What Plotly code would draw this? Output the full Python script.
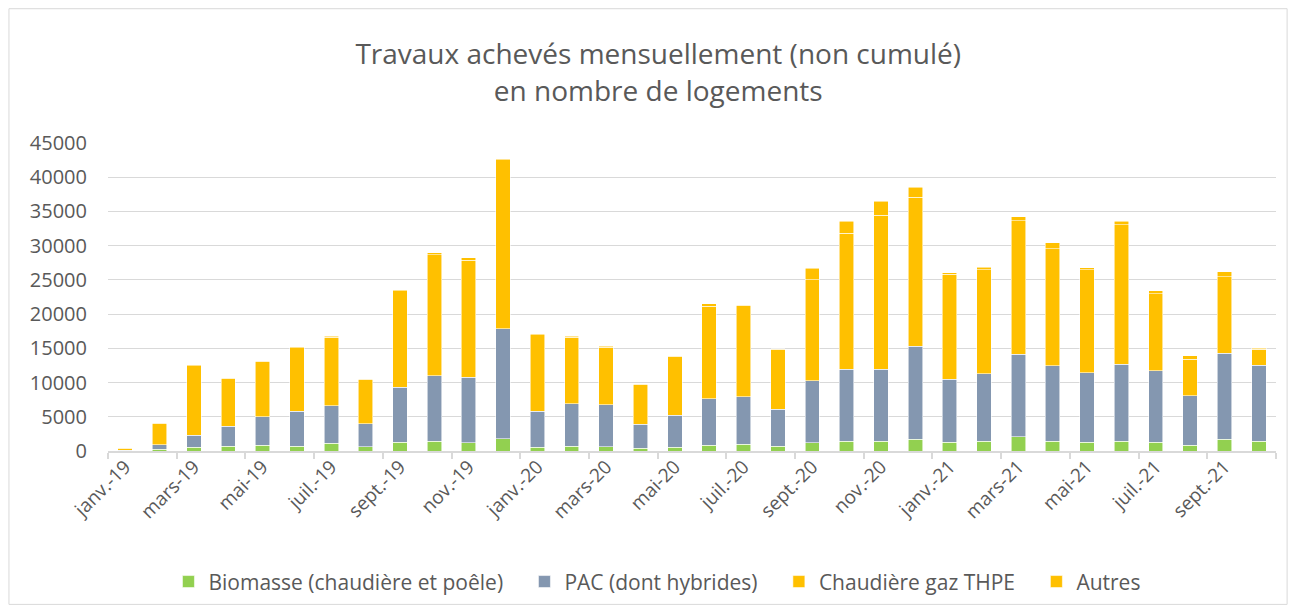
import plotly.graph_objects as go

months = ["janv.-19","févr.-19","mars-19","avr.-19","mai-19","juin-19","juil.-19","août-19","sept.-19","oct.-19","nov.-19","déc.-19",
          "janv.-20","févr.-20","mars-20","avr.-20","mai-20","juin-20","juil.-20","août-20","sept.-20","oct.-20","nov.-20","déc.-20",
          "janv.-21","févr.-21","mars-21","avr.-21","mai-21","juin-21","juil.-21","août-21","sept.-21","oct.-21"]

biomasse = [40, 250, 540, 690, 830, 730, 1120, 590, 1270, 1420, 1230, 1810,
            540, 690, 590, 390, 540, 830, 980, 690, 1230, 1420, 1420, 1710,
            1310, 1460, 2050, 1460, 1310, 1420, 1270, 830, 1710, 1460]
pac = [100, 630, 1750, 2960, 4140, 5110, 5510, 3410, 8040, 9600, 9540, 16070,
       5260, 6240, 6190, 3510, 4720, 6820, 6970, 5400, 9060, 10520, 10560, 13630,
       9210, 9850, 12120, 10960, 10090, 11290, 10480, 7210, 12560, 11060]
gaz = [200, 3150, 10150, 6950, 8050, 9230, 10000, 6460, 14130, 17680, 17090, 24690,
       11200, 9700, 8390, 5850, 8550, 13490, 13250, 8750, 14750, 19870, 22500, 21770,
       15340, 15190, 19490, 17150, 15050, 20370, 11250, 5400, 11210, 2340]
autres = [60, 120, 130, 120, 130, 130, 130, 120, 140, 230, 400, 150,
          150, 130, 130, 100, 130, 400, 130, 120, 1650, 1750, 2000, 1420,
          150, 340, 530, 880, 350, 480, 380, 500, 730, 150]

series_names = ["Biomasse (chaudière et poêle)", "PAC (dont hybrides)", "Chaudière gaz THPE", "Autres"]
series_values = [biomasse, pac, gaz, autres]
series_colors = ["#92d050", "#8497b0", "#ffc000", "#ffc000"]

xs = list(range(len(months)))
fig = go.Figure()
for i, (name, vals, col) in enumerate(zip(series_names, series_values, series_colors)):
    pad = "\u00a0\u00a0\u00a0" if i < len(series_names) - 1 else ""
    fig.add_trace(go.Bar(x=xs, y=vals, name=name + pad, width=0.42,
                         marker=dict(color=col, line=dict(color="rgba(255,255,255,0.7)", width=0.8))))

# invisible trace for the boundary-tick axis
fig.add_trace(go.Scatter(x=[-0.5, len(months) - 0.5], y=[0, 0], xaxis="x2", mode="markers",
                         marker=dict(opacity=0), showlegend=False, hoverinfo="skip"))

grey = "#595959"
FONT = "Open Sans"
fig.update_layout(
    width=1280, height=597,
    barmode="stack",
    paper_bgcolor="white", plot_bgcolor="white",
    margin=dict(l=100, r=12, t=135, b=154, autoexpand=False),
    font=dict(family=FONT, color=grey, size=16),
    title=dict(text="Travaux achevés mensuellement (non cumulé)<br>en nombre de logements",
               x=0.508, xanchor="center", y=0.906, yanchor="middle",
               font=dict(size=28, color=grey, family=FONT)),
    xaxis=dict(range=[-0.5, len(months) - 0.5], tickvals=xs[::2], ticktext=months[::2],
               tickangle=-45, ticks="", showgrid=False, zeroline=False, showline=False,
               tickfont=dict(size=19, color=grey), automargin=False),
    xaxis2=dict(overlaying="x", range=[-0.5, len(months) - 0.5],
                tickvals=[i - 0.5 for i in range(0, len(months) + 1, 2)],
                ticks="outside", ticklen=6, tickcolor="#d9d9d9", tickwidth=1.5,
                showticklabels=False, showline=True, linecolor="#d9d9d9", linewidth=1.5,
                showgrid=False, zeroline=False, side="bottom", anchor="y", automargin=False),
    yaxis=dict(range=[0, 45000], dtick=5000, showgrid=True, gridcolor="#d9d9d9", gridwidth=1.2,
               zeroline=False, showline=False, tickfont=dict(size=20, color=grey),
               tickformat="d", ticklabelstandoff=20, automargin=False),
    legend=dict(orientation="h", x=0.47, xanchor="center", y=-0.425, yanchor="middle",
                font=dict(size=21, color=grey), traceorder="normal", itemwidth=30),
    bargap=0.5,
    shapes=[dict(type="rect", xref="paper", yref="paper", x0=-0.0848, x1=1.0095, y0=-0.498, y1=1.436,
                 line=dict(color="#d9d9d9", width=1), fillcolor="rgba(0,0,0,0)", layer="below")],
)

fig.write_html("out.html")
